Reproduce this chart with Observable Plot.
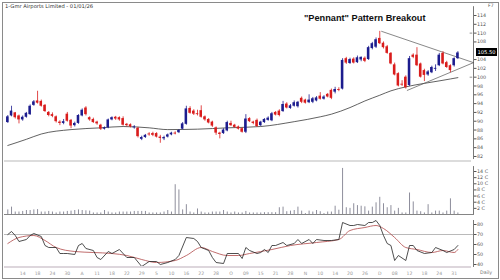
<!DOCTYPE html>
<html><head><meta charset="utf-8">
<script src="https://cdn.jsdelivr.net/npm/d3@7"></script>
<script src="https://cdn.jsdelivr.net/npm/@observablehq/plot@0.6"></script>
<style>
body{margin:0;background:#fff;}
#wrap{position:relative;width:500px;height:280px;overflow:hidden;background:#fff;font-family:"DejaVu Sans",sans-serif;}
.abs{position:absolute;}
#frame{left:2px;top:2px;width:497px;height:277px;box-sizing:border-box;border:1px solid #8a8a8a;}
.sep{left:4px;width:467px;height:2px;background:#dcdcdc;}
</style></head>
<body><div id="wrap">
<div id="p1" class="abs" style="left:0;top:0"></div>
<div id="p2" class="abs" style="left:0;top:162px"></div>
<div id="p3" class="abs" style="left:0;top:216px"></div>
<div class="abs sep" style="top:160px"></div>
<div class="abs sep" style="top:266px;background:#ddd6dc"></div>
<div id="frame" class="abs"></div>
<div class="abs" style="left:5px;top:3px;font-size:5.2px;color:#333;white-space:nowrap">1-Gmr Airports Limited - 01/01/26</div>
<div class="abs" style="left:488px;top:3px;font-size:4.6px;color:#555">F7</div>
<div class="abs" style="left:304px;top:13px;font-family:'Liberation Sans',Arial,sans-serif;font-weight:bold;font-size:9.2px;color:#111;white-space:nowrap">"Pennant" Pattern Breakout</div>
<div class="abs" style="left:480px;top:270px;font-size:4.8px;color:#777">Daily</div>
<div id="tag" class="abs" style="left:476px;width:21px;height:8px;background:#000;color:#fff;font-size:5.2px;line-height:8px;text-align:center">105.50</div>
</div>
<script>
// ---- price candles (bar index 0 = first trading day shown) ----
const opens  = [89.7,91.2,91.9,91.2,90.3,90.9,91.5,93.6,94.6,94.5,93.6,92.0,91.5,91.0,89.8,89.5,91.6,90.2,89.0,89.5,91.2,93.0,90.8,90.4,89.8,89.1,88.2,88.5,90.3,90.9,90.8,90.6,89.3,89.2,88.5,88.4,85.9,86.3,87.1,87.2,87.2,86.4,86.0,86.4,86.9,87.3,87.4,88.2,89.3,92.9,92.3,91.7,92.4,91.0,90.4,89.8,88.5,87.3,87.2,87.8,89.5,89.1,88.7,88.3,87.5,90.6,89.8,90.2,89.0,89.7,90.2,90.1,92.0,92.3,92.2,93.9,92.9,93.4,93.3,95.2,94.8,94.2,94.3,94.6,95.7,95.0,96.1,97.0,96.6,97.2,97.3,104.2,103.1,104.1,103.3,103.9,104.3,104.0,106.5,106.8,108.8,107.7,106.9,105.4,102.8,100.8,98.4,100.0,98.1,105.0,105.0,103.0,101.5,100.5,101.0,101.8,102.6,105.4,103.3,102.6,102.6,104.2];
const highs  = [91.3,93.4,92.0,91.4,91.2,92.0,93.7,94.7,96.8,94.8,93.8,92.2,91.9,91.2,90.1,90.4,92.0,90.4,89.8,91.5,92.8,93.3,91.0,90.7,90.0,89.3,88.7,90.5,91.0,91.1,91.0,91.0,89.5,89.4,89.0,88.6,86.6,87.0,87.4,87.5,87.4,86.8,86.6,87.1,87.5,87.6,88.1,89.7,93.4,93.3,92.6,92.5,93.5,91.2,90.6,90.0,88.7,87.5,88.3,90.0,90.0,89.3,88.9,88.5,91.5,90.8,90.0,90.5,90.0,90.6,91.0,92.0,92.2,92.6,94.5,94.2,93.8,94.6,94.5,95.5,95.0,96.0,95.4,95.6,96.5,95.8,96.3,97.3,97.7,97.6,104.2,104.5,104.3,104.4,104.8,104.6,104.6,107.0,107.9,108.9,110.4,108.0,107.2,105.6,103.2,101.0,99.2,100.3,104.7,105.3,106.7,103.2,101.8,101.5,102.5,102.8,105.4,105.8,103.6,102.8,104.4,105.8];
const lows   = [89.5,91.0,90.5,89.4,90.0,90.7,91.3,93.4,93.9,93.2,92.0,91.0,90.8,89.6,89.0,89.2,89.8,88.3,88.7,89.3,91.0,91.2,90.0,89.5,89.1,87.9,88.0,88.3,90.1,90.2,90.0,88.9,88.7,88.5,88.2,86.2,85.6,86.1,86.6,86.5,86.2,85.0,85.6,86.2,86.7,86.9,87.2,88.0,89.1,91.6,91.3,91.2,90.7,90.0,89.4,88.6,86.8,86.0,87.0,87.6,88.8,88.4,88.0,87.3,87.2,89.7,89.2,88.6,88.8,89.5,90.0,89.9,91.2,91.0,92.0,92.8,92.7,93.2,93.0,94.0,93.9,94.0,94.0,94.4,94.8,94.8,95.3,94.9,96.2,96.7,97.1,102.9,102.9,103.0,103.1,103.5,103.3,103.8,106.2,106.5,107.4,106.4,105.2,102.8,100.3,97.8,97.9,97.3,97.9,104.2,102.4,99.8,99.0,100.2,100.8,101.3,102.4,102.8,102.0,101.0,102.3,104.0];
const closes = [91.0,92.3,90.8,90.3,90.9,91.8,93.4,94.4,94.1,93.4,92.2,91.3,91.1,89.9,89.5,89.9,90.0,88.9,89.5,91.3,92.5,91.5,90.3,89.7,89.4,88.2,88.5,90.3,90.8,90.5,90.3,89.1,89.0,88.7,88.7,86.5,86.3,86.8,86.9,86.8,86.4,86.1,86.3,86.9,87.3,87.1,87.9,89.4,92.8,91.8,91.6,91.5,90.9,90.3,89.6,88.9,87.3,87.0,88.0,89.7,89.0,88.6,88.2,87.5,90.5,89.9,89.5,88.8,89.8,90.4,90.7,91.7,91.4,91.3,93.8,93.0,93.5,94.2,94.3,94.3,94.1,94.8,95.1,95.3,95.0,95.5,95.5,95.2,97.2,97.0,103.8,103.2,104.0,103.2,104.4,104.5,103.6,106.7,107.6,108.5,107.6,106.7,105.4,103.0,100.5,98.0,98.2,97.6,104.2,104.5,102.6,100.0,100.4,101.2,102.2,102.0,105.0,103.0,102.2,101.5,104.2,105.5];
// ---- volume (crore) ----
const volumes = [1.5,2.4,0.8,0.8,1.0,1.3,1.3,1.5,1.6,0.8,0.8,1.0,0.8,0.5,0.8,0.8,1.0,1.1,1.3,1.5,1.3,1.2,1.1,0.5,0.5,0.5,1.3,0.8,0.5,0.5,0.8,0.8,0.8,0.8,1.0,1.0,1.0,1.0,0.5,0.5,0.5,0.5,0.8,1.3,0.8,9.7,8.0,1.5,3.2,0.8,0.5,1.8,0.8,0.5,0.5,0.8,0.8,0.8,1.3,0.8,0.5,0.8,0.5,0.5,1.0,0.5,0.5,0.5,0.5,0.6,0.6,0.6,0.6,2.2,2.4,0.9,1.1,1.3,2.4,1.1,0.3,1.1,0.8,1.3,0.9,0.3,0.8,0.8,2.7,1.4,15.0,2.2,2.0,3.5,2.9,2.7,2.5,1.1,2.4,3.8,5.6,3.5,2.2,2.9,1.1,2.0,0.5,0.5,7.0,4.1,1.1,0.9,0.5,3.2,0.5,1.1,1.1,0.5,1.1,5.1,1.1,0.5];
// ---- moving average of price (read at these bars) ----
const maBar = [0,5,9,17,25,31,38,43,51,59,68,77,84,87,92,96,100,103,107,112,117,121];
const maVal = [84.5,85.9,87.1,88.1,88.5,88.8,88.5,88.1,88.2,88.5,88.8,89.9,91.0,91.6,93.1,94.6,95.9,96.9,97.8,98.6,99.3,99.9];
// ---- pennant trendlines ----
const penTopBar = [100.5,125.2], penTopVal = [110.4,103.3];
const penBotBar = [107.4,125.2], penBotVal = [97.0,103.3];
// ---- level markers beside the price axis ----
const levelMarks = [110, 100];
// ---- RSI and its signal ----
const rsiBar = [0,1,2,3,5,6,7,9,10,11,13,14,15,16,18,19,20,21,23,24,25,27,28,30,32,34,36,38,40,41,43,45,46,48,50,51,52,54,55,56,58,59,60,62,63,64,65,67,68,69,70,71,72,74,75,77,78,79,81,82,83,85,87,89,90,92,93,94,96,97,98,99,100,101,102,103,104,105,107,108,109,110,112,114,115,117,118,120,121];
const rsiVal = [70,73,69,63,65,69,71,68,59,57,57,51,51,51,50,59,61,56,54,47,45,53,51,55,47,47,38,43,43,40,42,45,49,67,66,63,57,54,47,42,41,51,51,51,46,57,54,51,52,55,52,59,59,62,59,61,65,61,65,61,65,64,64,65,82,79,79,80,79,82,82,84,79,69,61,59,44,49,44,59,59,54,51,52,57,54,52,55,59];
const sigBar = [0,3,7,10,13,18,23,28,32,36,40,45,48,52,55,59,62,65,71,76,83,89,92,96,99,101,104,107,110,114,117,120,121];
const sigVal = [61,67,69,64,57,53,52,51,49,45,42,44,49,57,53,49,49,51,55,59,62,65,74,77,79,76,67,57,55,52,54,52,55];
// ---- axes (106 sits behind the last-price tag) ----
const priceTicks = [82,84,86,88,90,92,94,96,98,100,102,104,108,110,112,114];
const volTicks = [2,4,6,8,10,12,14];
const rsiTicks = [40,50,60,70,80];
const dateTickBar = [4,8,12,16,20,24,28,32,36,40,44,48,52,56,60,64,68,72,76,80,84,88,92,96,100,104,108,112,116,120];
const dateTickLabel = ["14","18","24","30","A","11","18","22","29","5","10","16","22","28","O","09","15","21","28","N","10","14","20","26","D","08","12","18","24","31"];

const BLUE = "#1c1c8e", RED = "#d91c1c";
const XD = [-0.89, 125.2];
const candles = closes.map((c, i) => ({i, o: opens[i], h: highs[i], l: lows[i], c, col: c >= opens[i] ? BLUE : RED}));
const vols = volumes.map((v, i) => ({i, v}));
const ma = maBar.map((b, k) => ({i: b, v: maVal[k]}));
const rsi = rsiBar.map((b, k) => ({i: b, v: rsiVal[k]}));
const sig = sigBar.map((b, k) => ({i: b, v: sigVal[k]}));
const penTop = penTopBar.map((b, k) => ({i: b, v: penTopVal[k]}));
const penBot = penBotBar.map((b, k) => ({i: b, v: penBotVal[k]}));

const common = {width: 500, marginLeft: 4, marginRight: 27, color: {type: "identity"},
  style: {background: "transparent", color: "#555", fontFamily: "DejaVu Sans, sans-serif", overflow: "visible"}};

const p1 = Plot.plot({
  ...common, height: 162, marginTop: 5, marginBottom: 1,
  x: {domain: XD, axis: null},
  y: {domain: [80.86, 116.27]},
  marks: [
    Plot.line(ma, {x: "i", y: "v", stroke: "#3a3a3a", strokeWidth: 0.8, curve: "monotone-x"}),
    Plot.line(penTop, {x: "i", y: "v", stroke: "#555", strokeWidth: 0.7}),
    Plot.line(penBot, {x: "i", y: "v", stroke: "#555", strokeWidth: 0.7}),
    Plot.ruleX(candles, {x: "i", y1: "l", y2: "h", stroke: "col", strokeWidth: 0.8}),
    Plot.rect(candles, {x1: d => d.i - 0.34, x2: d => d.i + 0.34, y1: "o", y2: "c", fill: "col"}),
    Plot.ruleY(levelMarks, {x1: 124.3, x2: 125.0, stroke: "#777", strokeWidth: 0.8}),
    Plot.ruleX([XD[1]], {y1: 81.3, y2: 116, stroke: "#555", strokeWidth: 0.8}),
    Plot.axisY({anchor: "right", ticks: priceTicks, tickSize: 2.5, tickPadding: 1, fontSize: 4.8, label: null})
  ]
});
document.getElementById("p1").append(p1);
const tagY = p1.scale("y").apply(closes[closes.length - 1]);
document.getElementById("tag").style.top = (tagY - 4) + "px";

const p2 = Plot.plot({
  ...common, height: 54, marginTop: 0, marginBottom: 0,
  x: {domain: XD, axis: null},
  y: {domain: [-0.65, 16.93]},
  marks: [
    Plot.ruleX(vols, {x: "i", y1: 0, y2: "v", stroke: "#8e8e9c", strokeWidth: 1}),
    Plot.ruleY([0], {stroke: "#666", strokeWidth: 0.8}),
    Plot.ruleX([XD[1]], {y1: -0.3, y2: 15.6, stroke: "#555", strokeWidth: 0.8}),
    Plot.axisY({anchor: "right", ticks: volTicks, tickFormat: d => d + " C", tickSize: 2.5, tickPadding: 1, fontSize: 4.8, label: null})
  ]
});
document.getElementById("p2").append(p2);

const p3 = Plot.plot({
  ...common, height: 64, marginTop: 1, marginBottom: 13,
  x: {domain: XD},
  y: {domain: [37, 87]},
  marks: [
    Plot.ruleY([70], {stroke: "#a8a8a8", strokeWidth: 0.8}),
    Plot.line(sig, {x: "i", y: "v", stroke: "#b04848", strokeWidth: 0.8, curve: "monotone-x"}),
    Plot.line(rsi, {x: "i", y: "v", stroke: "#222", strokeWidth: 0.8}),
    Plot.ruleX([XD[1]], {y1: 37, y2: 84, stroke: "#555", strokeWidth: 0.8}),
    Plot.axisY({anchor: "right", ticks: rsiTicks, tickSize: 2.5, tickPadding: 1, fontSize: 4.8, label: null}),
    Plot.axisX({ticks: dateTickBar, tickFormat: d => dateTickLabel[dateTickBar.indexOf(d)], tickSize: 0, tickPadding: 4, fontSize: 4.6, color: "#999", label: null})
  ]
});
document.getElementById("p3").append(p3);
</script>
</body></html>
